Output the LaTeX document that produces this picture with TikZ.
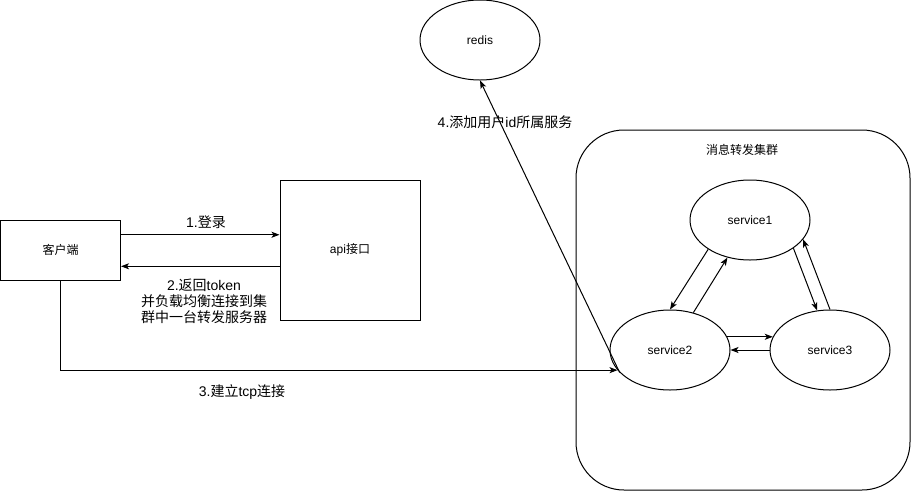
\documentclass[tikz,border=0pt]{standalone}
\usepackage{fontspec}
\setmainfont{Liberation Sans}
\newfontfamily\cjk{Noto Sans CJK SC}
\usetikzlibrary{arrows.meta,calc,shapes.geometric}
\begin{document}
\begin{tikzpicture}[x=1pt,y=-1pt,
  every node/.style={font=\fontsize{12}{14}\selectfont},
  box/.style={draw,line width=1pt,inner sep=0pt},
  ell/.style={draw,ellipse,line width=1pt,minimum width=120pt,minimum height=80pt,inner sep=0pt},
  arr/.style={line width=1pt,-{Stealth[length=8pt,width=6pt,inset=2pt]}},
  lbl/.style={align=center,inner sep=0pt,font=\fontsize{14}{16}\selectfont}
]
\useasboundingbox (0,0) rectangle (911,491);
% nodes
\node[box,minimum width=120pt,minimum height=60pt] (client) at (60.5,250) {\cjk 客户端};
\node[box,minimum width=140pt,minimum height=140pt] (api) at (350,250) {api{\cjk 接口}};
\node[box,rounded corners=48pt,minimum width=334pt,minimum height=360pt] (cluster) at (743,310) {};
\node[inner sep=0pt] (clusterlbl) at (742,150) {\cjk 消息转发集群};
\node[ell] (redis) at (480,40) {redis};
\node[ell] (s1) at (750,220) {service1};
\node[ell] (s2) at (670,350) {service2};
\node[ell] (s3) at (830,350) {service3};
% connectors
\coordinate (c1) at ($(client.north east)!0.25!(client.south east)$);
\coordinate (c2) at ($(client.north east)!0.767!(client.south east)$);
\draw[arr] (c1) -- (c1 -| api.west);
\draw[arr] (c2 -| api.west) -- (c2);
\draw[arr] (client.south) |- (s2.201);
\draw[arr] (s2.204) -- (redis.south);
\draw[arr] (s1.215) -- (s2.90);
\draw[arr] (s2.58) -- (s1.239);
\draw[arr] (s1.327) -- (s3.108);
\draw[arr] (s3.90) -- (s1.340);
\draw[arr] (s2.13) -- (s3.167);
\draw[arr] (s3.west) -- (s2.east);
% labels
\node[lbl] (l1) at (206,222) {1.{\cjk 登录}};
\node[lbl] (l2) at (204,301) {2.{\cjk 返回}token\\{\cjk 并负载均衡连接到集}\\{\cjk 群中一台转发服务器}};
\node[lbl] (l3) at (242,392) {3.{\cjk 建立}tcp{\cjk 连接}};
\node[lbl] (l4) at (505,122) {4.{\cjk 添加用户}id{\cjk 所属服务}};
\end{tikzpicture}
\end{document}
